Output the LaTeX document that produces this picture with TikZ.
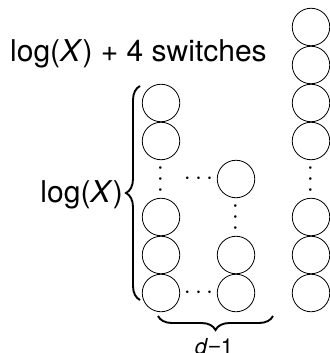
\documentclass[tikz,border=0pt]{standalone}
\usepackage{fontspec}
\setmainfont{TeX Gyre Heros}
\newfontfamily\minusfont{Liberation Sans}
\usetikzlibrary{decorations.pathreplacing}
\tikzset{
  sw/.style={circle, draw, line width=0.8pt, minimum size=37.5pt, inner sep=0pt},
  big/.style={font=\fontsize{30}{36}\selectfont, inner sep=0pt},
  small/.style={font=\fontsize{22}{26}\selectfont, inner sep=0pt},
  dotsnode/.style={font=\fontsize{25}{30}\selectfont, inner sep=0pt},
  vdotsnode/.style={dotsnode, rotate=90},
  bracestyle/.style={decorate, decoration={brace, amplitude=14pt}, line width=1.9pt}
}
\begin{document}
\begin{tikzpicture}[x=1pt, y=-1pt]
\useasboundingbox (0,0) rectangle (329,353);
% right column
\foreach \r/\y in {0/27,1/65,2/103,3/141,5/217,6/255,7/293}
  \node[sw] (r\r) at (311,\y) {};
\node[vdotsnode] (rdots) at (311,179) {$\cdots$};
% left column
\foreach \r/\y in {2/103,3/141,5/217,6/255,7/293}
  \node[sw] (l\r) at (161,\y) {};
\node[vdotsnode] (ldots) at (161,179) {$\cdots$};
% middle column
\foreach \r/\y in {4/179,6/255,7/293}
  \node[sw] (m\r) at (236,\y) {};
\node[vdotsnode] (mdots) at (236,217) {$\cdots$};
% horizontal dots
\node[dotsnode] (hdots1) at (198.5,179) {$\cdots$};
\node[dotsnode] (hdots2) at (198.5,293) {$\cdots$};
% title
\node[big, anchor=base west] (title) at (10,62) {log(\textit{X}) + 4 switches};
% left brace
\coordinate (lbB) at (140,300);
\coordinate (lbT) at (140,86);
\draw[bracestyle] (lbB) -- (lbT);
\node[big, anchor=base east] (loglabel) at (123,202) {log(\textit{X})};
% bottom brace
\coordinate (bbL) at (158,316);
\coordinate (bbR) at (273,316);
\draw[bracestyle] (bbR) -- (bbL);
\node[small, anchor=base] (dlabel) at (214,354) {\textit{d}{\minusfont −}1};
\end{tikzpicture}
\end{document}
